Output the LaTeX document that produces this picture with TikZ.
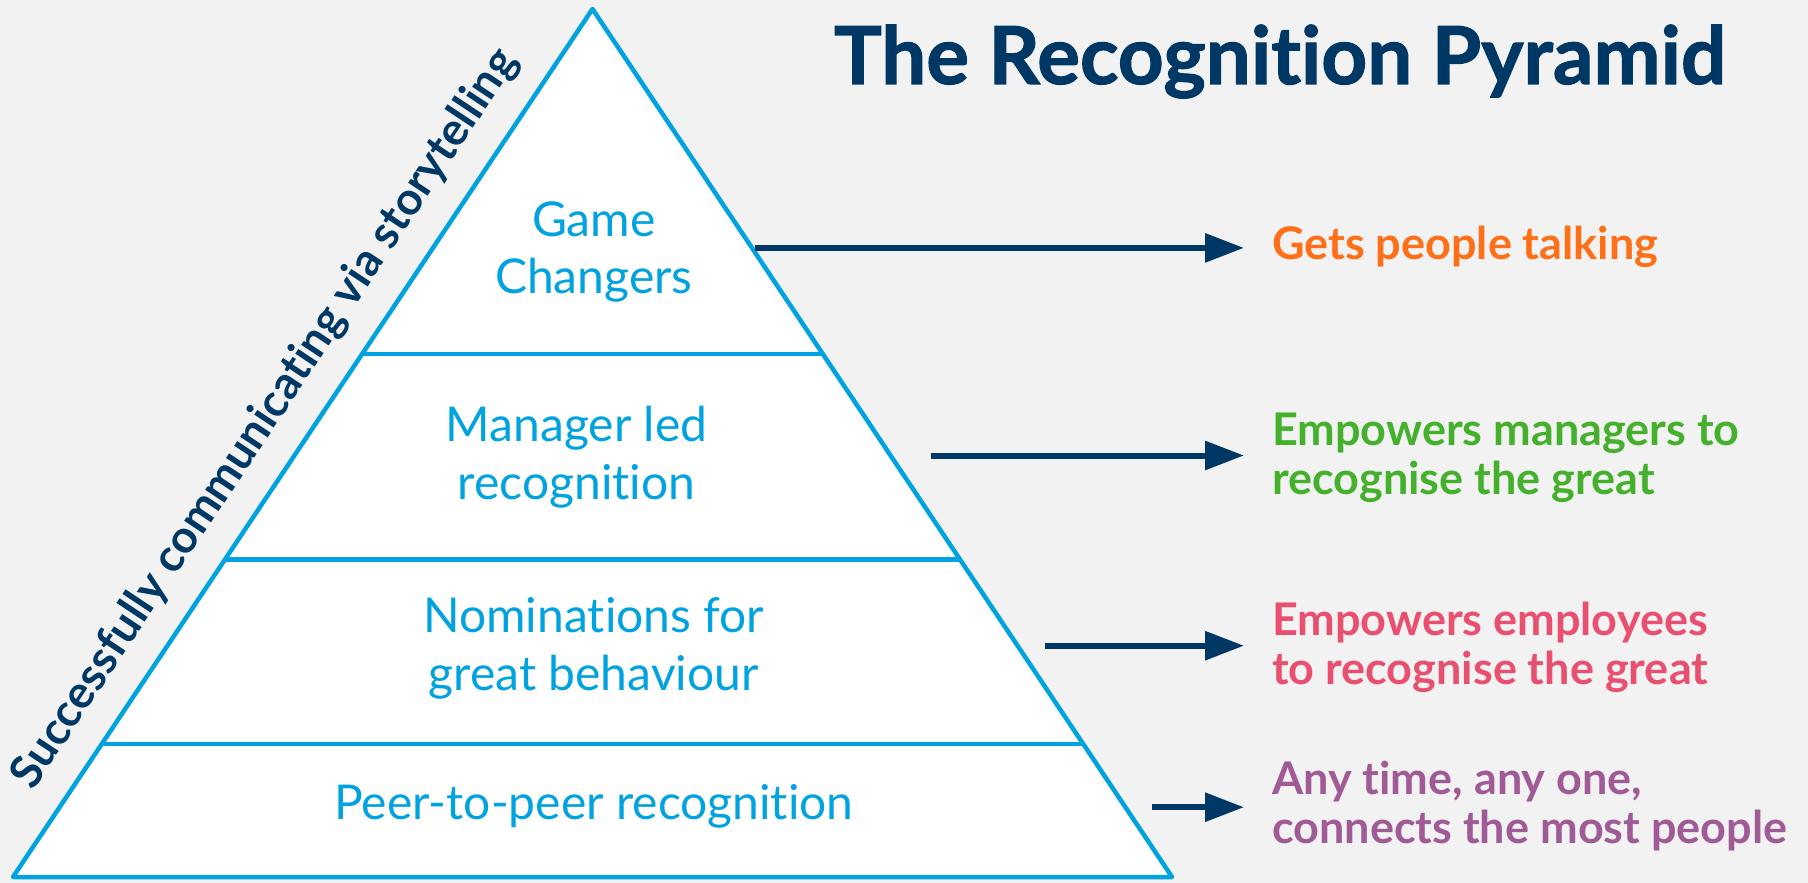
\documentclass[tikz,border=0pt]{standalone}
\usepackage{fontspec}
\setmainfont{Lato}[Ligatures={NoCommon}]
\newfontfamily\titlefont{Lato}[Ligatures={NoCommon},BoldFeatures={FakeBold=1.4}]
\usetikzlibrary{arrows.meta,calc}
\definecolor{bgc}{RGB}{242,242,242}
\definecolor{cyanc}{RGB}{0,163,224}
\definecolor{navyc}{RGB}{0,56,101}
\definecolor{orangec}{RGB}{255,111,24}
\definecolor{greenc}{RGB}{68,176,44}
\definecolor{pinkc}{RGB}{233,80,111}
\definecolor{purplec}{RGB}{160,90,150}
\tikzset{
  tier/.style={text=cyanc,align=center,inner sep=0pt,font=\fontsize{48}{57.7}\selectfont},
  sidelab/.style={anchor=west,align=left,inner sep=0pt,font=\fontsize{45}{49.6}\selectfont\bfseries},
  arr/.style={draw=navyc,line width=6pt,-{Triangle[length=39pt,width=28pt]}},
  edge/.style={draw=cyanc,line width=4.5pt}
}
\begin{document}
\begin{tikzpicture}[x=1pt,y=-1pt]
\useasboundingbox (0,0) rectangle (1808,883);
\fill[bgc] (0,0) rectangle (1808,883);
\coordinate (apex) at (592.5,9);
\coordinate (bl) at (13,877);
\coordinate (br) at (1172,877);
\fill[white] (apex) -- (bl) -- (br) -- cycle;
% tier lines
\coordinate (l1) at ($(apex)!0.3975!(bl)$);
\coordinate (r1) at ($(apex)!0.3975!(br)$);
\coordinate (l2) at ($(apex)!0.634!(bl)$);
\coordinate (r2) at ($(apex)!0.634!(br)$);
\coordinate (l3) at ($(apex)!0.8465!(bl)$);
\coordinate (r3) at ($(apex)!0.8465!(br)$);
\draw[edge] (l1) -- (r1);
\draw[edge] (l2) -- (r2);
\draw[edge] (l3) -- (r3);
\draw[edge,line join=round] (apex) -- (bl) -- (br) -- cycle;
% tier labels
\node[tier] (t1) at (593.8,252) {Game\\Changers};
\node[tier] (t2) at (576.6,457.5) {Manager led\\recognition};
\node[tier] (t3) at (593.8,648.5) {Nominations for\\great behaviour};
\node[tier] (t4) at (593.8,806) {Peer-to-peer recognition};
% title
\node[anchor=base,inner sep=0pt,text=navyc,font=\titlefont\fontsize{80}{86}\selectfont\bfseries] (title) at (1280,84) {The Recognition Pyramid};
% side text
\node[rotate=56.4,inner sep=0pt,text=navyc,font=\fontsize{45.5}{50}\selectfont\bfseries] (side) at (265,419) {Successfully communicating via storytelling};
% right labels
\node[sidelab,text=orangec] (g1) at (1271.9,246.5) {Gets people talking};
\node[sidelab,text=greenc] (g2) at (1271.9,457.8) {Empowers managers to\\recognise the great};
\node[sidelab,text=pinkc] (g3) at (1271.9,647.5) {Empowers employees\\to recognise the great};
\node[sidelab,text=purplec] (g4) at (1271.9,806) {Any time, any one,\\connects the most people};
% arrows
\coordinate (s1) at (755.3,247.9);
\coordinate (e1) at (1244,247.9);
\coordinate (s2) at (930.5,455.5);
\coordinate (e2) at (1244,455.5);
\coordinate (s3) at (1044.7,645.7);
\coordinate (e3) at (1244,645.7);
\coordinate (s4) at (1152,807.2);
\coordinate (e4) at (1244,807.2);
\draw[arr] (s1) -- (e1);
\draw[arr] (s2) -- (e2);
\draw[arr] (s3) -- (e3);
\draw[arr] (s4) -- (e4);
\end{tikzpicture}
\end{document}
